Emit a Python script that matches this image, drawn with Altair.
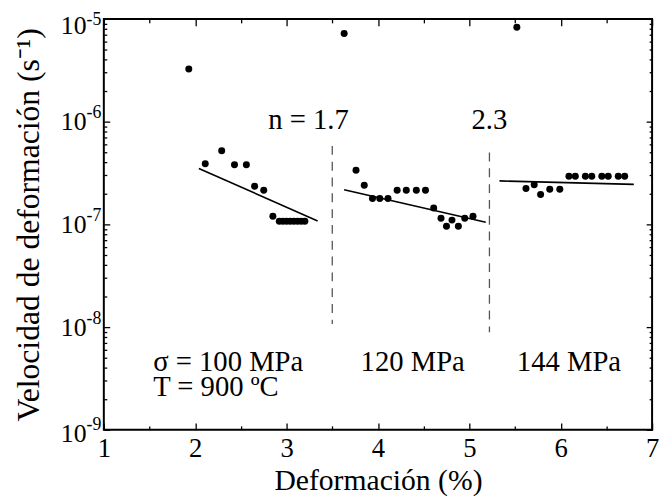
import altair as alt
import pandas as pd

FONT = "Liberation Serif"

# ---- data ----
pts_x = [1.93, 2.11, 2.29, 2.43, 2.56, 2.65, 2.75, 2.85, 2.92, 2.96, 3.00, 3.04, 3.08, 3.12, 3.16, 3.20,
         3.63, 3.76, 3.85, 3.94, 4.02, 4.11, 4.21, 4.31, 4.42, 4.52, 4.61, 4.69, 4.75, 4.81, 4.88, 4.95, 5.04,
         5.52, 5.62, 5.71, 5.78, 5.88, 5.99, 6.09, 6.16, 6.27, 6.34, 6.45, 6.52, 6.63, 6.70]
pts_y = [3.26e-6, 3.9e-7, 5.2e-7, 3.8e-7, 3.8e-7, 2.35e-7, 2.15e-7, 1.2e-7,
         1.07e-7, 1.07e-7, 1.07e-7, 1.07e-7, 1.07e-7, 1.07e-7, 1.07e-7, 1.07e-7,
         7.2e-6, 3.36e-7, 2.4e-7, 1.79e-7, 1.79e-7, 1.79e-7, 2.15e-7, 2.15e-7, 2.15e-7, 2.15e-7,
         1.44e-7, 1.15e-7, 9.6e-8, 1.1e-7, 9.6e-8, 1.15e-7, 1.2e-7,
         8.3e-6, 2.24e-7, 2.43e-7, 1.95e-7, 2.2e-7, 2.2e-7,
         2.94e-7, 2.94e-7, 2.94e-7, 2.94e-7, 2.94e-7, 2.94e-7, 2.94e-7, 2.94e-7]

fit_x = [2.04, 3.34, 3.63, 5.18, 5.33, 6.80]
fit_y = [3.5e-7, 1.08e-7, 2.17e-7, 1.05e-7, 2.65e-7, 2.45e-7]
fit_g = ["a", "a", "b", "b", "c", "c"]

dash_x = [3.5, 3.5, 5.22, 5.22]
dash_y = [5.8e-7, 1.07e-8, 5.0e-7, 8.9e-9]
dash_g = ["a", "a", "b", "b"]

left_text = ["σ = 100 MPa", "T = 900 ºC"]
left_text_x = [1.54, 1.54]
left_text_y = [3.78e-9, 2.12e-9]

center_text = ["n = 1.7", "2.3", "120 MPa", "144 MPa"]
center_text_x = [3.24, 5.22, 4.38, 6.09]
center_text_y = [8.57e-7, 8.57e-7, 3.78e-9, 3.78e-9]

x_major = [1, 2, 3, 4, 5, 6, 7]
x_minor = [1.5, 2.5, 3.5, 4.5, 5.5, 6.5]
y_major = [1e-9, 1e-8, 1e-7, 1e-6, 1e-5]
mantissas = [2, 3, 4, 5, 6, 7, 8, 9]
decades = [1e-9, 1e-8, 1e-7, 1e-6]
y_minor = [m * d for d in decades for m in mantissas]

pts = pd.DataFrame({"x": pts_x, "y": pts_y})
fits = pd.DataFrame({"x": fit_x, "y": fit_y, "g": fit_g})
dashes = pd.DataFrame({"x": dash_x, "y": dash_y, "g": dash_g})
ltext = pd.DataFrame({"x": left_text_x, "y": left_text_y, "t": left_text})
ctext = pd.DataFrame({"x": center_text_x, "y": center_text_y, "t": center_text})

xs = alt.Scale(domain=[1, 7], nice=False, zero=False)
ys = alt.Scale(type="log", domain=[1e-9, 1e-5], nice=False)


def tick_axis(orient, values, size):
    return alt.Axis(orient=orient, values=values, tickSize=size, offset=-size,
                    domain=False, grid=False, labels=False, ticks=True, title=None,
                    tickColor="black", tickWidth=1.3)


x_main = alt.Axis(orient="bottom", values=x_major, tickSize=7, offset=-7, domain=False, grid=False,
                  labelPadding=6, labelFontSize=27, labelFont=FONT, labelColor="black",
                  labelFlush=False, format="d", tickColor="black", tickWidth=1.3,
                  title="Deformación (%)", titleFont=FONT, titleFontSize=30,
                  titleFontWeight="normal", titleColor="black", titlePadding=4)

y_main = alt.Axis(orient="left", values=y_major, tickSize=6, offset=-6, domain=False, grid=False,
                  labelPadding=18, labelFontSize=26, labelFont=FONT, labelColor="black",
                  labelFlush=False, labelExpr="'10'", tickColor="black", tickWidth=1.3,
                  labelOverlap=False,
                  labelOffset={"condition": [{"test": "datum.value > 5e-6", "value": 7},
                                             {"test": "datum.value < 2e-9", "value": 4}],
                               "value": 0},
                  title="Velocidad de deformación (s⁻¹)", titleFont=FONT, titleFontSize=32,
                  titleFontWeight="normal", titleColor="black", titlePadding=15)

y_exp = alt.Axis(orient="left", values=y_major, ticks=False, tickSize=0, offset=0, domain=False,
                 grid=False, labelPadding=3, labelFontSize=18, labelFont=FONT, labelColor="black",
                 labelFlush=False, labelOverlap=False,
                 labelOffset={"condition": [{"test": "datum.value > 5e-6", "value": 1},
                                            {"test": "datum.value < 2e-9", "value": -5}],
                              "value": -9},
                 labelExpr="'-' + abs(round(log(datum.value) / LN10))", title=None)

points = alt.Chart(pts).mark_circle(size=50, color="black", opacity=1).encode(
    x=alt.X("x:Q", scale=xs, axis=x_main),
    y=alt.Y("y:Q", scale=ys, axis=y_main),
)

fit_lines = alt.Chart(fits).mark_line(color="black", strokeWidth=1.6).encode(
    x=alt.X("x:Q", scale=xs, axis=tick_axis("bottom", x_minor, 4)),
    y=alt.Y("y:Q", scale=ys, axis=tick_axis("left", y_minor, 3)),
    detail="g:N",
)

dash_lines = alt.Chart(dashes).mark_line(color="#555555", strokeWidth=1.3, strokeDash=[9, 7]).encode(
    x=alt.X("x:Q", scale=xs, axis=tick_axis("top", x_major, 7)),
    y=alt.Y("y:Q", scale=ys, axis=tick_axis("right", y_major, 6)),
    detail="g:N",
)

left_labels = alt.Chart(ltext).mark_text(align="left", baseline="alphabetic", font=FONT,
                                         fontSize=29, color="black").encode(
    x=alt.X("x:Q", scale=xs, axis=tick_axis("top", x_minor, 4)),
    y=alt.Y("y:Q", scale=ys, axis=tick_axis("right", y_minor, 3)),
    text="t:N",
)

center_labels = alt.Chart(ctext).mark_text(align="center", baseline="alphabetic", font=FONT,
                                           fontSize=29, color="black").encode(
    x=alt.X("x:Q", scale=xs, axis=None),
    y=alt.Y("y:Q", scale=ys, axis=y_exp),
    text="t:N",
)

chart = alt.layer(points, fit_lines, dash_lines, left_labels, center_labels).resolve_axis(
    x="independent", y="independent"
).properties(
    width=555, height=416,
    autosize=alt.AutoSizeParams(type="none"),
    padding={"left": 97, "top": 8, "right": 7, "bottom": 70},
    background="white",
).configure_view(stroke="black", strokeWidth=2)

chart.save("out.html", embed_options={"renderer": "svg", "actions": False})
